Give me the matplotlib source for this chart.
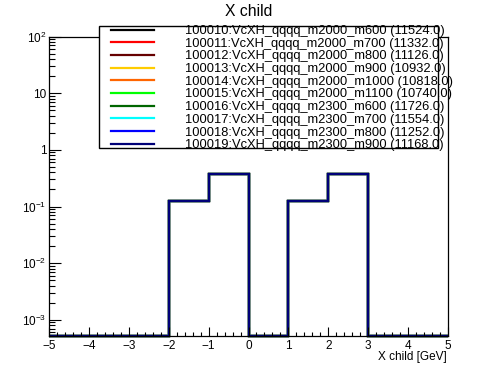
"""
X child distribution for the VcXH qqqq signal samples (normalised, log scale).
"""

import matplotlib
matplotlib.use("Agg")
import matplotlib.pyplot as plt
import numpy as np
from matplotlib.lines import Line2D
from matplotlib.patches import Rectangle
from matplotlib.ticker import FixedLocator, FuncFormatter, LogLocator, NullFormatter

plt.rcParams["font.family"] = ["Liberation Sans", "DejaVu Sans"]
plt.rcParams["mathtext.fontset"] = "custom"
plt.rcParams["mathtext.rm"] = "Liberation Sans"

# samples: dsid, mass point, raw event count
DSIDS = ["100010", "100011", "100012", "100013", "100014",
         "100015", "100016", "100017", "100018", "100019"]
MASS_POINTS = ["m2000_m600", "m2000_m700", "m2000_m800", "m2000_m900", "m2000_m1000",
               "m2000_m1100", "m2300_m600", "m2300_m700", "m2300_m800", "m2300_m900"]
N_EVENTS = [11524.0, 11332.0, 11126.0, 10932.0, 10818.0,
            10740.0, 11726.0, 11554.0, 11252.0, 11168.0]
COLORS = ["#000000", "#ff0000", "#660000", "#ffcc00", "#ff6600",
          "#00ff00", "#006600", "#00ffff", "#0000ff", "#000078"]

# binning and (normalised) contents -- identical for every sample
BIN_EDGES = [-5, -4, -3, -2, -1, 0, 1, 2, 3, 4, 5]
BIN_CONTENTS = [0.0, 0.0, 0.0, 0.125, 0.375, 0.0, 0.125, 0.375, 0.0, 0.0]

YMIN, YMAX = 5.3e-4, 100.0
W, H = 498, 374

fig = plt.figure(figsize=(W / 100, H / 100), dpi=100)
ax = fig.add_axes([49 / W, 1 - 335.5 / H, 399 / W, 299 / H])

handles = []
for dsid, mp, n, c in zip(DSIDS, MASS_POINTS, N_EVENTS, COLORS):
    vals = np.array(BIN_CONTENTS)
    vals = np.where(vals > 0, vals, YMIN)  # empty bins sit on the axis, like ROOT
    ax.stairs(vals, BIN_EDGES, baseline=None, color=c, linewidth=1.6, clip_on=False)
    handles.append(Line2D([], [], color=c, linewidth=1.6,
                          label=f"{dsid}:VcXH_qqqq_{mp} ({n:.1f})"))

ax.set_xlim(-5, 5)
ax.set_yscale("log")
ax.set_ylim(YMIN, YMAX)

ax.xaxis.set_major_locator(FixedLocator(np.arange(-5, 6)))
ax.xaxis.set_minor_locator(FixedLocator(np.arange(-5, 5.01, 0.2)))
ax.yaxis.set_major_locator(LogLocator(base=10, numticks=20))
ax.yaxis.set_minor_locator(LogLocator(base=10, subs=np.arange(2, 10), numticks=20))
ax.yaxis.set_minor_formatter(NullFormatter())


def root_log_label(v, pos):
    e = int(round(np.log10(v)))
    if e == 0:
        return "1"
    if e == 1:
        return "10"
    return r"$\mathdefault{10^{%d}}$" % e


ax.yaxis.set_major_formatter(FuncFormatter(root_log_label))

ax.tick_params(which="both", direction="in", top=False, right=False, labelsize=8.5)
ax.tick_params(axis="x", which="major", length=6.5, width=0.8, pad=3)
ax.tick_params(axis="x", which="minor", length=3, width=0.8)
ax.tick_params(axis="y", which="major", length=8.5, width=0.8, pad=2)
ax.tick_params(axis="y", which="minor", length=4.5, width=0.8)
for s in ax.spines.values():
    s.set_linewidth(0.9)

fig.text(447 / W, 1 - 357 / H, "X child [GeV]", ha="right", va="center", fontsize=8.5)
fig.text(248.5 / W, 1 - 12 / H, "X child", ha="center", va="center", fontsize=11.3)

# legend box (text overflows the frame on the right, as in the ROOT canvas)
fig.patches.append(Rectangle((99 / W, 1 - 148 / H), 339 / W, 122 / H,
                             transform=fig.transFigure, facecolor="white",
                             edgecolor="black", linewidth=1.0, zorder=5))
leg = fig.legend(handles=handles, loc="upper left",
                 bbox_to_anchor=(111 / W, 1 - 25 / H), frameon=False,
                 fontsize=9.3, handlelength=3.3, handletextpad=2.45,
                 labelspacing=0.05, borderpad=0, borderaxespad=0)
leg.set_zorder(6)

fig.savefig("out.png", dpi=100)
